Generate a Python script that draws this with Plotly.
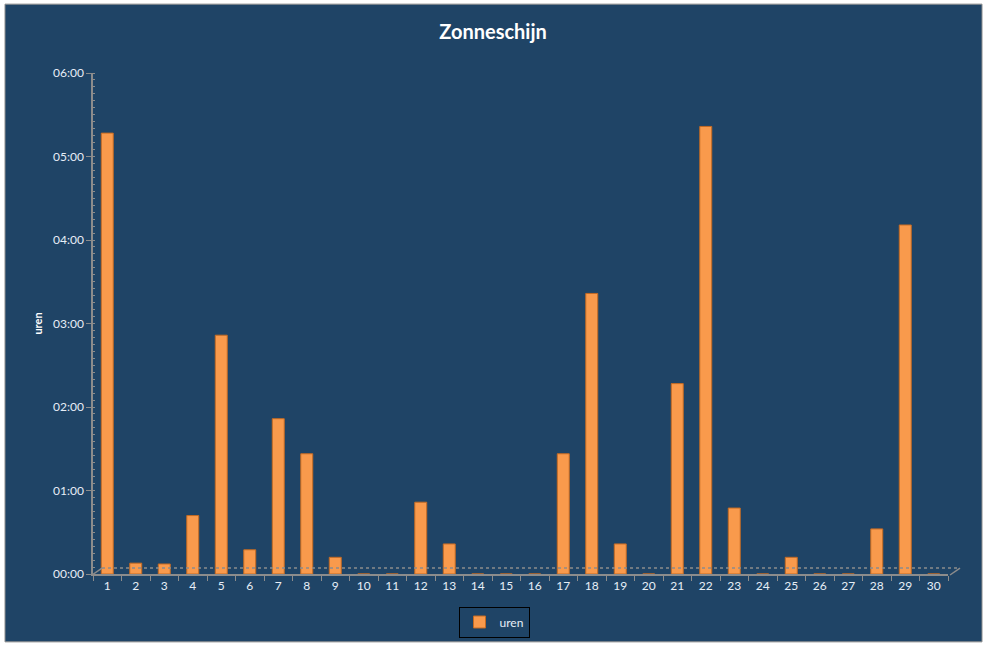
import plotly.graph_objects as go

days = [str(d) for d in range(1, 31)]
uren = [5.28, 0.13, 0.12, 0.70, 2.86, 0.29, 1.86, 1.44, 0.20, 0, 0, 0.86, 0.36, 0, 0, 0,
        1.44, 3.36, 0.36, 0, 2.28, 5.36, 0.79, 0, 0.20, 0, 0, 0.54, 4.18, 0]
y_tickvals = [0, 1, 2, 3, 4, 5, 6]
y_ticktext = ["00:00", "01:00", "02:00", "03:00", "04:00", "05:00", "06:00"]

BG = "#1F4466"
FONT = "Lato, Noto Sans, sans-serif"
TXT = "#E6EEF7"

fig = go.Figure()
fig.add_trace(go.Bar(
    x=days, y=uren, name="uren",
    marker=dict(color="#F99A4C", line=dict(color="#C46A22", width=1)),
))

W, H = 987, 648
L, R, T, B = 93, 39, 73, 73
pw, ph = W - L - R, H - T - B


def px(x):
    return (x - L) / pw


def py(y):
    return (H - B - y) / ph


shapes = [
    dict(type="rect", xref="paper", yref="paper", layer="below",
         x0=px(5), x1=px(982), y0=py(643), y1=py(4),
         fillcolor=BG, line=dict(color="#8C8C8C", width=1)),
    # floor back edge
    dict(type="line", xref="paper", yref="paper",
         x0=px(102), x1=px(960), y0=py(569), y1=py(569),
         line=dict(color="#8C8C8C", width=1.5, dash="dot")),
    dict(type="line", xref="paper", yref="paper",
         x0=px(92), x1=px(102), y0=py(576), y1=py(569),
         line=dict(color="#8C8C8C", width=1.5)),
    dict(type="line", xref="paper", yref="paper",
         x0=px(950), x1=px(960), y0=py(576), y1=py(569),
         line=dict(color="#8C8C8C", width=1.5)),
]

fig.update_layout(
    width=W, height=H,
    margin=dict(l=L, r=R, t=T, b=B, pad=0),
    paper_bgcolor="white",
    plot_bgcolor=BG,
    font=dict(family=FONT, color=TXT, size=12),
    title=dict(text="<b>Zonneschijn</b>", x=(493) / W, xanchor="center",
               y=1 - 32 / H, yanchor="middle",
               font=dict(size=20, color="white", family=FONT)),
    bargap=0.58,
    showlegend=True,
    legend=dict(orientation="h", x=px(494), xanchor="center", y=py(622), yanchor="middle",
                bgcolor="rgba(0,0,0,0)", bordercolor="black", borderwidth=1,
                font=dict(size=12, color=TXT), itemwidth=30, tracegroupgap=0),
    shapes=shapes,
    xaxis=dict(
        type="category", showgrid=False, showline=True, linecolor="#8C8C8C", linewidth=1.5,
        ticks="outside", tickson="boundaries", ticklen=5, tickcolor="#8C8C8C",
        tickfont=dict(size=12, color=TXT), range=[-0.5, 29.5], fixedrange=True,
    ),
    yaxis=dict(
        range=[0, 6], tickvals=y_tickvals, ticktext=y_ticktext, showgrid=False,
        showline=True, linecolor="#8C8C8C", linewidth=1.5, zeroline=False,
        ticks="outside", ticklen=5, tickcolor="#8C8C8C",
        tickfont=dict(size=12, color=TXT),
        minor=dict(dtick=1 / 12, ticks="inside", ticklen=2, tickcolor="#8C8C8C", showgrid=False),
        title=dict(text="<b>uren</b>", font=dict(size=11, color="white"), standoff=8),
    ),
)

fig.write_html("out.html", config={"displayModeBar": False},
               post_script="document.body.style.margin='0';document.body.style.overflow='hidden';")
